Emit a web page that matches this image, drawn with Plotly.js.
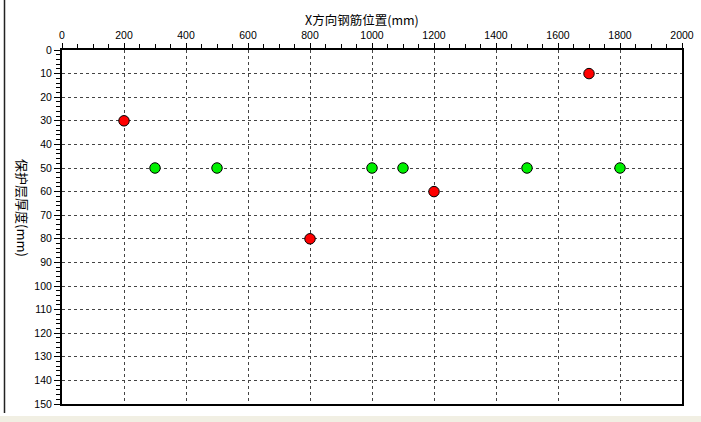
<!DOCTYPE html>
<html>
<head>
<meta charset="utf-8">
<script src="https://cdn.plot.ly/plotly-3.0.1.min.js"></script>
<style>html,body{margin:0;padding:0;background:#fff;}#chart{width:701px;height:422px;}</style>
</head>
<body>
<div id="chart"></div>
<script>
const redX = [200, 800, 1200, 1700];
const redY = [30, 80, 60, 10];
const greenX = [300, 500, 1000, 1100, 1500, 1800];
const greenY = [50, 50, 50, 50, 50, 50];
const xTitle = 'X方向钢筋位置(mm)';
const yTitle = '保护层厚度(mm)';

const L = 62, R = 682, T = 50, B = 404, W = 701, H = 422;
const pw = R - L, ph = B - T;
const px = v => (v - L) / pw;
const py = v => (B - v) / ph;

const traces = [
  {x: redX, y: redY, type: 'scatter', mode: 'markers', showlegend: false, hoverinfo: 'skip',
   marker: {color: '#ff0000', size: 10.5, line: {color: '#000', width: 1}}},
  {x: greenX, y: greenY, type: 'scatter', mode: 'markers', showlegend: false, hoverinfo: 'skip',
   marker: {color: '#00f000', size: 10.5, line: {color: '#000', width: 1}}}
];

const tickFont = {family: 'Liberation Sans, Arial, sans-serif', size: 10.5, color: '#000'};
const layout = {
  width: W, height: H,
  margin: {l: L, r: W - R, t: T, b: H - B, pad: 0},
  paper_bgcolor: '#fff', plot_bgcolor: '#fff',
  showlegend: false,
  font: {family: 'Noto Sans CJK SC, sans-serif', color: '#000'},
  xaxis: {
    range: [0, 2000], side: 'top', dtick: 200, tick0: 0,
    showline: true, linecolor: '#000', linewidth: 2, mirror: true,
    ticks: 'outside', ticklen: 5, tickwidth: 1, tickcolor: '#000',
    minor: {dtick: 50, ticks: 'outside', ticklen: 4, tickwidth: 1, tickcolor: '#000', showgrid: false},
    showgrid: true, gridcolor: '#444', gridwidth: 1, griddash: '3px,3px',
    zeroline: false, tickfont: tickFont, fixedrange: true
  },
  yaxis: {
    range: [150, 0], dtick: 10, tick0: 0,
    showline: true, linecolor: '#000', linewidth: 2, mirror: true,
    ticks: 'outside', ticklen: 6, tickwidth: 1, tickcolor: '#000',
    minor: {dtick: 2, ticks: 'outside', ticklen: 4, tickwidth: 1, tickcolor: '#000', showgrid: false},
    showgrid: true, gridcolor: '#444', gridwidth: 1, griddash: '3px,3px',
    zeroline: false, tickfont: tickFont, fixedrange: true
  },
  annotations: [
    {text: xTitle, xref: 'paper', yref: 'paper', x: px(362), y: py(19), showarrow: false,
     xanchor: 'center', yanchor: 'middle', font: {family: 'Noto Sans CJK SC', size: 12.5, color: '#000'}},
    {text: yTitle, xref: 'paper', yref: 'paper', x: px(23), y: py(208), showarrow: false, textangle: 90,
     xanchor: 'center', yanchor: 'middle', font: {family: 'Noto Sans CJK SC', size: 13, color: '#000'}}
  ],
  shapes: [
    {type: 'line', xref: 'paper', yref: 'paper', x0: px(4.5), x1: px(4.5), y0: py(0), y1: py(413),
     line: {color: '#222', width: 1.5}},
    {type: 'rect', xref: 'paper', yref: 'paper', x0: px(0), x1: px(701), y0: py(416), y1: py(422),
     fillcolor: '#f1efe3', line: {width: 0}}
  ]
};

Plotly.newPlot('chart', traces, layout, {staticPlot: true, displayModeBar: false});
</script>
</body>
</html>
